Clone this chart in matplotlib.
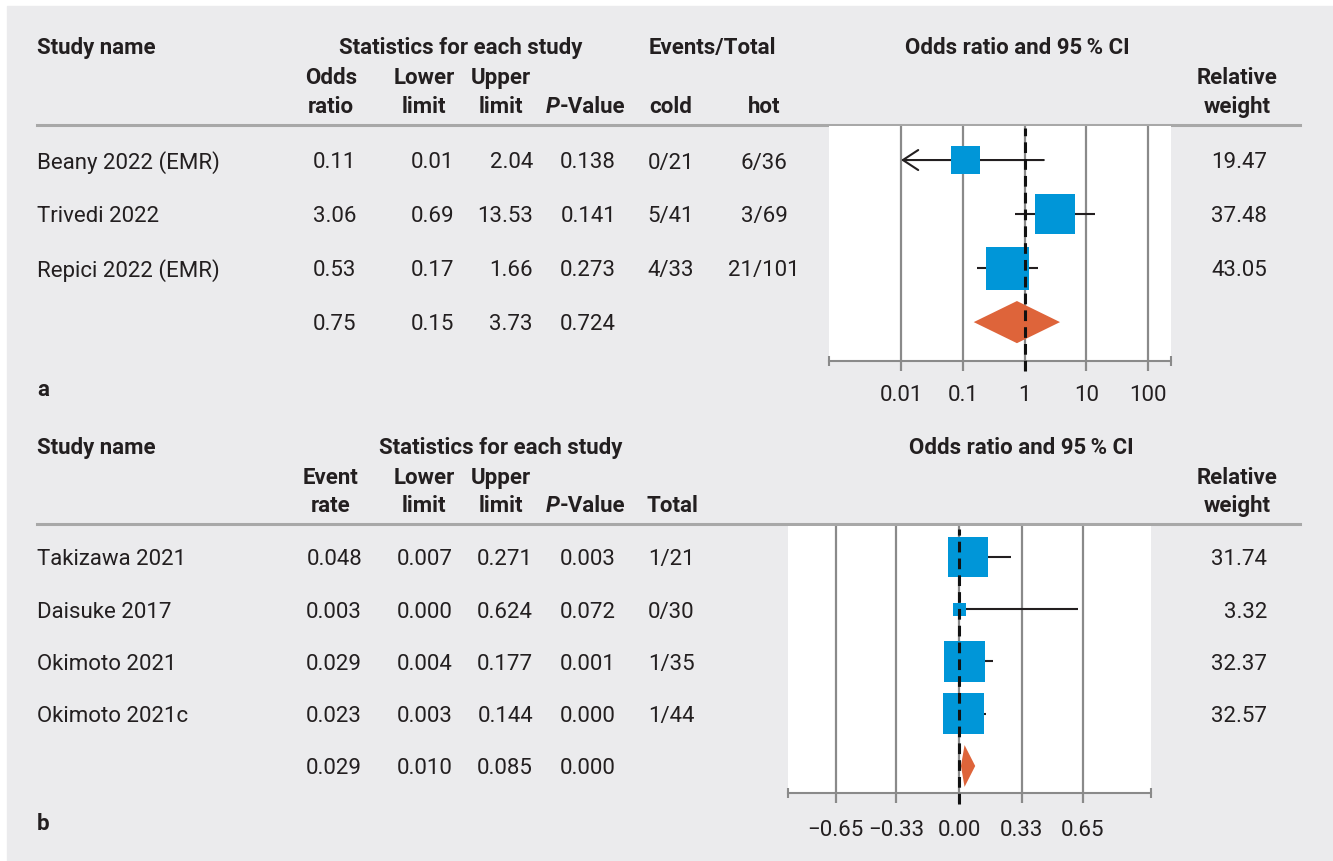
import numpy as np
import matplotlib
matplotlib.use("Agg")
import matplotlib.pyplot as plt
from matplotlib.patches import Rectangle
from matplotlib.ticker import FixedLocator, NullFormatter

# Panel a: cold vs hot snare, odds ratios
a_names = ["Beany 2022 (EMR)", "Trivedi 2022", "Repici 2022 (EMR)"]
a_or = [0.11, 3.06, 0.53]
a_lower = [0.01, 0.69, 0.17]
a_upper = [2.04, 13.53, 1.66]
a_p = [0.138, 0.141, 0.273]
a_cold = ["0/21", "5/41", "4/33"]
a_hot = ["6/36", "3/69", "21/101"]
a_weight = [19.47, 37.48, 43.05]
a_pooled = [0.75, 0.15, 3.73, 0.724]  # estimate, lower, upper, p
a_ticks = [0.01, 0.1, 1, 10, 100]
a_tick_labels = ["0.01", "0.1", "1", "10", "100"]

# Panel b: event rates
b_names = ["Takizawa 2021", "Daisuke 2017", "Okimoto 2021", "Okimoto 2021c"]
b_rate = [0.048, 0.003, 0.029, 0.023]
b_lower = [0.007, 0.000, 0.004, 0.003]
b_upper = [0.271, 0.624, 0.177, 0.144]
b_p = [0.003, 0.072, 0.001, 0.000]
b_total = ["1/21", "0/30", "1/35", "1/44"]
b_weight = [31.74, 3.32, 32.37, 32.57]
b_pooled = [0.029, 0.010, 0.085, 0.000]
b_ticks = [-0.65, -0.33, 0.0, 0.33, 0.65]
b_tick_labels = ["\u22120.65", "\u22120.33", "0.00", "0.33", "0.65"]

W, H = 1333, 862
BG = "#ebebed"
TXT = "#231f20"
GRID = "#8a8a8a"
BLUE = "#0096d8"
ORANGE = "#de643a"
FS = 16
DY = 2  # text baseline nudge (px)

plt.rcParams["font.family"] = ["Roboto", "DejaVu Sans"]

fig = plt.figure(figsize=(W / 100, H / 100), dpi=100, facecolor="white")
bg = fig.add_axes([0, 0, 1, 1])
bg.set_xlim(0, W)
bg.set_ylim(H, 0)
bg.axis("off")
bg.add_patch(Rectangle((7, 7), W - 7, H - 7, color=BG, zorder=0))


def txt(x, y, s, ha="left", bold=False, italic=False):
    bg.text(x, y + DY, s, ha=ha, va="center", fontsize=FS, color=TXT,
            fontweight="bold" if bold else "normal",
            fontstyle="italic" if italic else "normal")


def pvalue_header(y):
    txt(560, y, "P", ha="right", bold=True, italic=True)
    txt(560, y, "-Value", bold=True)


def forest_axes(left, top, right, bottom):
    ax = fig.add_axes([left / W, 1 - bottom / H, (right - left) / W, (bottom - top) / H])
    ax.set_facecolor("white")
    for s in ["top", "left", "right"]:
        ax.spines[s].set_visible(False)
    ax.spines["bottom"].set_color(GRID)
    ax.spines["bottom"].set_linewidth(1.5)
    ax.set_yticks([])
    ax.grid(axis="x", color=GRID, lw=1.6)
    ax.set_axisbelow(True)
    return ax


def finish_axis(ax, ticks, labels, pad):
    ax.set_xticks(ticks)
    ax.set_xticklabels(labels)
    lo, hi = ax.get_xlim()
    ax.xaxis.set_minor_locator(FixedLocator([lo, hi]))
    ax.xaxis.set_minor_formatter(NullFormatter())
    ax.tick_params(axis="x", which="major", direction="out", length=7.5, width=1.6,
                   color=GRID, labelsize=FS, labelcolor=TXT, pad=pad)
    ax.tick_params(axis="x", which="minor", direction="inout", length=7, width=1.5,
                   color=GRID)


def draw_rows(ax, est, lower, upper, weight, pooled, px_per_sqrt, null, clip_lo, half_h):
    rows = np.arange(len(est))
    for r, lo, hi in zip(rows, lower, upper):
        if clip_lo is not None and lo <= clip_lo:
            ax.annotate("", xy=(clip_lo, r), xytext=(hi, r),
                        arrowprops=dict(arrowstyle="->,head_length=0.55,head_width=0.36",
                                        color=TXT, lw=1.5, mutation_scale=20,
                                        shrinkA=0, shrinkB=0), zorder=2)
        else:
            ax.hlines(r, lo, hi, color=TXT, lw=1.5, zorder=2)
    sides = px_per_sqrt * np.sqrt(weight) * 0.72
    ax.scatter(est, rows, s=sides ** 2, marker="s", color=BLUE, linewidths=0, zorder=3)
    yp = len(est)
    e, lo, hi = pooled[0], pooled[1], pooled[2]
    ax.fill([lo, e, hi, e], [yp, yp - half_h, yp, yp + half_h], color=ORANGE,
            lw=0, zorder=3)
    ax.axvline(null, ymin=-0.043, ymax=0.99, color="#111111", lw=2.2,
               ls=(0, (3.5, 2)), clip_on=False, zorder=4)


# ---------------- Panel a ----------------
txt(37, 46, "Study name", bold=True)
txt(461, 46, "Statistics for each study", ha="center", bold=True)
txt(712, 46, "Events/Total", ha="center", bold=True)
txt(1017, 46, "Odds ratio and 95\u2009% CI", ha="center", bold=True)
for x, top, bottom in [(331, "Odds", "ratio"), (424, "Lower", "limit"),
                       (501, "Upper", "limit"), (1237, "Relative", "weight")]:
    txt(x, 76, top, ha="center", bold=True)
    txt(x, 105, bottom, ha="center", bold=True)
pvalue_header(105)
txt(671, 105, "cold", ha="center", bold=True)
txt(764, 105, "hot", ha="center", bold=True)
bg.plot([37, 1300], [125.5, 125.5], color="#a8a8a8", lw=2.2)

a_rows_y = [161 + 54 * i for i in range(len(a_names) + 1)]
for i, name in enumerate(a_names):
    y = a_rows_y[i]
    txt(37, y, name)
    txt(356, y, f"{a_or[i]:.2f}", ha="right")
    txt(454, y, f"{a_lower[i]:.2f}", ha="right")
    txt(533, y, f"{a_upper[i]:.2f}", ha="right")
    txt(616, y, f"{a_p[i]:.3f}", ha="right")
    txt(671, y, a_cold[i], ha="center")
    txt(764, y, a_hot[i], ha="center")
    txt(1267, y, f"{a_weight[i]:.2f}", ha="right")
y = a_rows_y[-1]
txt(356, y, f"{a_pooled[0]:.2f}", ha="right")
txt(454, y, f"{a_pooled[1]:.2f}", ha="right")
txt(533, y, f"{a_pooled[2]:.2f}", ha="right")
txt(616, y, f"{a_pooled[3]:.3f}", ha="right")
txt(37, 388, "a", bold=True)

ax_a = forest_axes(829, 127, 1171, 362)
ax_a.set_xscale("log")
ax_a.set_xlim(10 ** -3.165, 10 ** 2.367)
ax_a.set_ylim(3.72, -0.63)
draw_rows(ax_a, a_or, a_lower, a_upper, a_weight, a_pooled, 6.55, 1, a_ticks[0], 0.39)
finish_axis(ax_a, a_ticks, a_tick_labels, pad=9)
ax_a.xaxis.set_minor_locator(FixedLocator(list(ax_a.get_xlim())))
ax_a.xaxis.set_minor_formatter(NullFormatter())

# ---------------- Panel b ----------------
txt(37, 446, "Study name", bold=True)
txt(501, 446, "Statistics for each study", ha="center", bold=True)
txt(1021, 446, "Odds ratio and 95\u2009% CI", ha="center", bold=True)
for x, top, bottom in [(331, "Event", "rate"), (424, "Lower", "limit"),
                       (501, "Upper", "limit"), (1237, "Relative", "weight")]:
    txt(x, 476, top, ha="center", bold=True)
    txt(x, 504, bottom, ha="center", bold=True)
pvalue_header(504)
txt(672, 504, "Total", ha="center", bold=True)
bg.plot([37, 1300], [524.5, 524.5], color="#a8a8a8", lw=2.2)

b_rows_y = [558 + 52.25 * i for i in range(len(b_names) + 1)]
for i, name in enumerate(b_names):
    y = b_rows_y[i]
    txt(37, y, name)
    txt(362, y, f"{b_rate[i]:.3f}", ha="right")
    txt(453, y, f"{b_lower[i]:.3f}", ha="right")
    txt(533, y, f"{b_upper[i]:.3f}", ha="right")
    txt(616, y, f"{b_p[i]:.3f}", ha="right")
    txt(671, y, b_total[i], ha="center")
    txt(1267, y, f"{b_weight[i]:.2f}", ha="right")
y = b_rows_y[-1]
txt(362, y, f"{b_pooled[0]:.3f}", ha="right")
txt(453, y, f"{b_pooled[1]:.3f}", ha="right")
txt(533, y, f"{b_pooled[2]:.3f}", ha="right")
txt(616, y, f"{b_pooled[3]:.3f}", ha="right")
txt(37, 822, "b", bold=True)

ax_b = forest_axes(788, 527, 1151, 794)
ax_b.set_xlim(-0.9, 1.01)
ax_b.set_ylim(4.517, -0.593)
draw_rows(ax_b, b_rate, b_lower, b_upper, b_weight, b_pooled, 7.2, 0, None, 0.40)
finish_axis(ax_b, b_ticks, b_tick_labels, pad=11)

fig.savefig("out.png", dpi=100, facecolor="white")
